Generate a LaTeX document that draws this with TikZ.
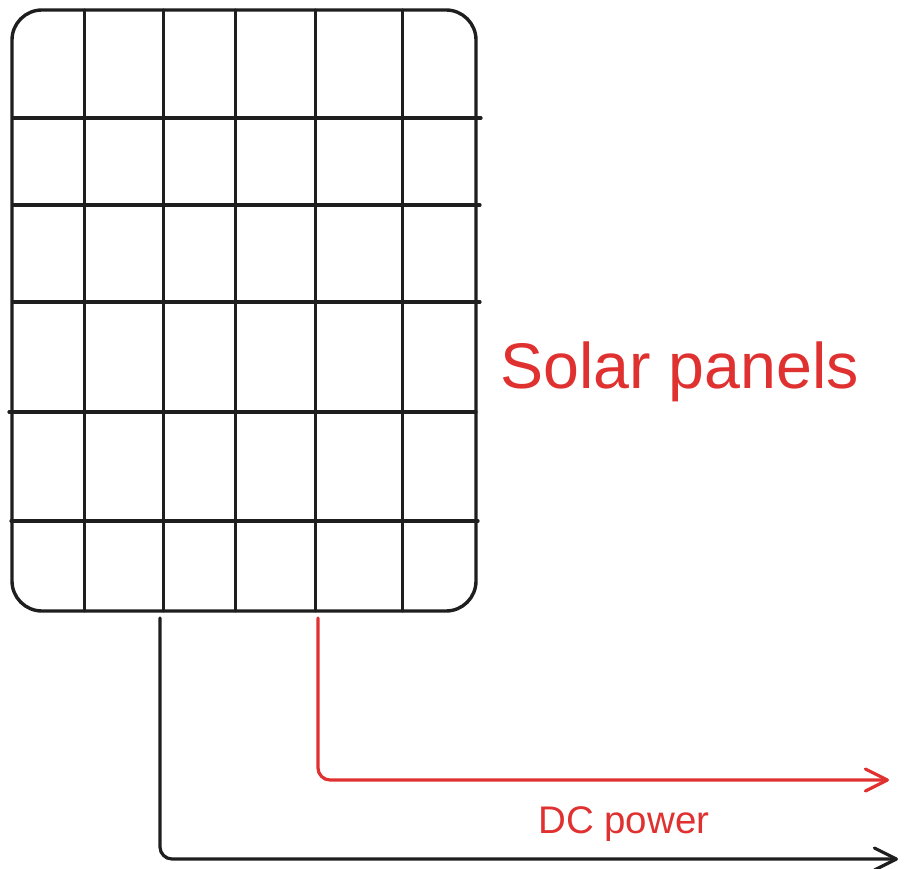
\documentclass[tikz,border=0pt]{standalone}
\usepackage{fontspec}
\setmainfont{Liberation Sans}
\usetikzlibrary{arrows.meta}
\definecolor{inkblack}{HTML}{1E1E1E}
\definecolor{inkred}{HTML}{E03131}
\tikzset{
  panel/.style={draw=inkblack, line width=3.4pt, rounded corners=30pt, minimum width=464pt, minimum height=601pt, inner sep=0pt},
  gridline/.style={draw=inkblack, line width=3.2pt, line cap=round},
  wire/.style={line width=3.2pt, rounded corners=12pt, line cap=round, -{Straight Barb[length=22pt,width=22pt,line cap=round,round]}},
  label/.style={text=inkred, inner sep=0pt, anchor=base west}
}
\begin{document}
\begin{tikzpicture}[x=1pt,y=-1pt]
\useasboundingbox (0,0) rectangle (905,869);
\node[panel] (panel) at (244,310.5) {};
% vertical grid lines
\foreach \gx in {84.5,163.5,235.5,315.5,402.5}
  \draw[gridline] (\gx,10) -- (\gx,611);
% horizontal grid lines
\draw[gridline] (13,118) -- (481,118);
\draw[gridline] (13,205) -- (480,205);
\draw[gridline] (13,302) -- (480,302);
\draw[gridline] (9,412) -- (476,412);
\draw[gridline] (11,521) -- (478,521);
% connectors
\coordinate (bstart) at (160,618);
\coordinate (bend) at (898,859);
\coordinate (rstart) at (318,618);
\coordinate (rend) at (889,780);
\draw[wire, draw=inkblack] (bstart) |- (bend);
\draw[wire, draw=inkred] (rstart) |- (rend);
% labels
\node[label, font=\fontsize{64.5}{70}\selectfont] (solar) at (500,388) {Solar panels};
\node[label, font=\fontsize{38.5}{42}\selectfont] (dc) at (538,833) {DC power};
\end{tikzpicture}
\end{document}
